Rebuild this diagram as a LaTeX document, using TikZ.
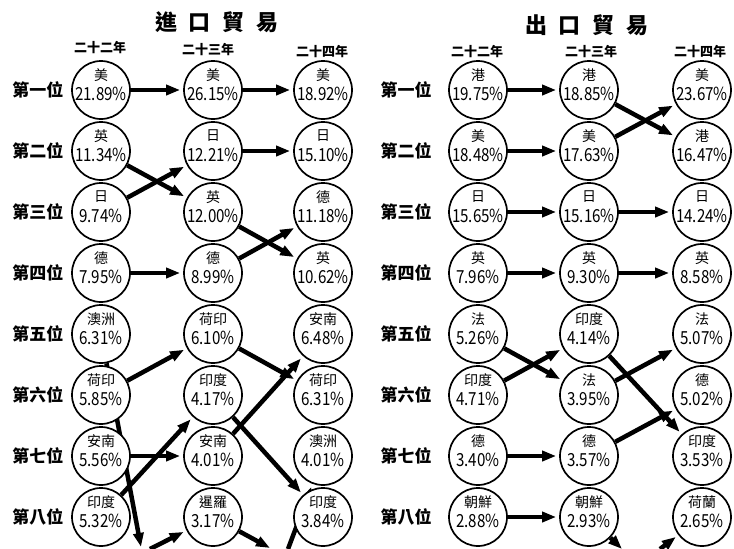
\documentclass[tikz,border=0pt]{standalone}
\usepackage{fontspec}
\usepackage{graphicx}
\setmainfont{Noto Sans CJK TC}
\usetikzlibrary{arrows.meta,backgrounds}
\newcommand{\rk}[5]{% name, x, row, country, share
  \node[rank] (#1) at (#2,{90+61*(#3-1)}) {};
  \node[ctry] (#1c) at ([yshift=15pt]#1.center) {#4};
  \node[shr] (#1p) at ([yshift=-4pt]#1.center) {\scalebox{0.84}[1]{#5\%}};}

\begin{document}
\begin{tikzpicture}[x=1pt,y=-1pt,
  rank/.style={draw,circle,line width=1.7pt,fill=white,minimum size=58pt,inner sep=0pt},
  ctry/.style={inner sep=0pt,font=\fontsize{14}{14}\selectfont},
  shr/.style={inner sep=0pt,font=\fontsize{18}{18}\selectfont},
  yr/.style={inner sep=0pt,font=\bfseries\fontsize{13}{13}\selectfont},
  rowlbl/.style={inner sep=0pt,font=\bfseries\fontsize{17}{17}\selectfont},
  ttl/.style={inner sep=0pt,font=\bfseries\fontsize{22}{22}\selectfont},
  flow/.style={-{Triangle[length=14pt,width=10pt]},line width=4.5pt,shorten >=3pt}]
  \useasboundingbox (0,0) rectangle (734,549);
  % titles and years
  \node[ttl] (ti) at (217,22) {進\hspace{12pt}口\hspace{12pt}貿\hspace{12pt}易};
  \node[ttl] (te) at (587,25) {出\hspace{12pt}口\hspace{12pt}貿\hspace{12pt}易};
  \node[yr] (iy1) at (100,48) {二十二年}; \node[yr] (iy2) at (208,50) {二十三年};
  \node[yr] (iy3) at (322,52) {二十四年};
  \node[yr] (ey1) at (477,52) {二十二年}; \node[yr] (ey2) at (591,52) {二十三年};
  \node[yr] (ey3) at (700,52) {二十四年};
  \foreach \r/\t in {1/一,2/二,3/三,4/四,5/五,6/六,7/七,8/八} {
    \node[rowlbl] (il\r) at (38,{90+61*(\r-1)}) {第\t 位};
    \node[rowlbl] (el\r) at (406,{90+61*(\r-1)}) {第\t 位};
  }
  % import
  \rk{i11}{101}{1}{美}{21.89} \rk{i12}{101}{2}{英}{11.34}
  \rk{i13}{101}{3}{日}{9.74}  \rk{i14}{101}{4}{德}{7.95}
  \rk{i15}{101}{5}{澳洲}{6.31} \rk{i16}{101}{6}{荷印}{5.85}
  \rk{i17}{101}{7}{安南}{5.56} \rk{i18}{101}{8}{印度}{5.32}
  \rk{i21}{213}{1}{美}{26.15} \rk{i22}{213}{2}{日}{12.21}
  \rk{i23}{213}{3}{英}{12.00} \rk{i24}{213}{4}{德}{8.99}
  \rk{i25}{213}{5}{荷印}{6.10} \rk{i26}{213}{6}{印度}{4.17}
  \rk{i27}{213}{7}{安南}{4.01} \rk{i28}{213}{8}{暹羅}{3.17}
  \rk{i31}{323}{1}{美}{18.92} \rk{i32}{323}{2}{日}{15.10}
  \rk{i33}{323}{3}{德}{11.18} \rk{i34}{323}{4}{英}{10.62}
  \rk{i35}{323}{5}{安南}{6.48} \rk{i36}{323}{6}{荷印}{6.31}
  \rk{i37}{323}{7}{澳洲}{4.01} \rk{i38}{323}{8}{印度}{3.84}
  % export
  \rk{e11}{478}{1}{港}{19.75} \rk{e12}{478}{2}{美}{18.48}
  \rk{e13}{478}{3}{日}{15.65} \rk{e14}{478}{4}{英}{7.96}
  \rk{e15}{478}{5}{法}{5.26}  \rk{e16}{478}{6}{印度}{4.71}
  \rk{e17}{478}{7}{德}{3.40}  \rk{e18}{478}{8}{朝鮮}{2.88}
  \rk{e21}{589}{1}{港}{18.85} \rk{e22}{589}{2}{美}{17.63}
  \rk{e23}{589}{3}{日}{15.16} \rk{e24}{589}{4}{英}{9.30}
  \rk{e25}{589}{5}{印度}{4.14} \rk{e26}{589}{6}{法}{3.95}
  \rk{e27}{589}{7}{德}{3.57}  \rk{e28}{589}{8}{朝鮮}{2.93}
  \rk{e31}{702}{1}{美}{23.67} \rk{e32}{702}{2}{港}{16.47}
  \rk{e33}{702}{3}{日}{14.24} \rk{e34}{702}{4}{英}{8.58}
  \rk{e35}{702}{5}{法}{5.07}  \rk{e36}{702}{6}{德}{5.02}
  \rk{e37}{702}{7}{印度}{3.53} \rk{e38}{702}{8}{荷蘭}{2.65}
  % ends off the chart
  \coordinate (iout1) at (141,547); \coordinate (iin2) at (150,549);
  \coordinate (iout2) at (270,548); \coordinate (iin3) at (288,549);
  \coordinate (eout2) at (622,549); \coordinate (ein3) at (660,549);
  \begin{scope}[on background layer]
    \draw[flow] (i11)--(i21); \draw[flow] (i21)--(i31);
    \draw[flow] (i12)--(i23); \draw[flow] (i13)--(i22); \draw[flow] (i22)--(i32);
    \draw[flow] (i23)--(i34); \draw[flow] (i24)--(i33); \draw[flow] (i14)--(i24);
    \draw[flow,shorten >=0pt] (i15)--(iout1);
    \draw[flow] (i16)--(i25); \draw[flow] (i25)--(i36);
    \draw[flow] (i17)--(i27); \draw[flow] (i27)--(i35);
    \draw[flow] (i18)--(i26); \draw[flow] (i26)--(i38);
    \draw[flow] (iin2)--(i28); \draw[flow,shorten >=0pt] (i28)--(iout2);
    \draw[flow] (iin3)--(i37);
    \draw[flow] (e11)--(e21); \draw[flow] (e21)--(e32);
    \draw[flow] (e12)--(e22); \draw[flow] (e22)--(e31);
    \draw[flow] (e13)--(e23); \draw[flow] (e23)--(e33);
    \draw[flow] (e14)--(e24); \draw[flow] (e24)--(e34);
    \draw[flow] (e15)--(e26); \draw[flow] (e16)--(e25);
    \draw[flow] (e25)--(e37); \draw[flow] (e26)--(e35);
    \draw[flow] (e17)--(e27); \draw[flow] (e27)--(e36);
    \draw[flow] (e18)--(e28); \draw[flow,shorten >=0pt] (e28)--(eout2);
    \draw[flow] (ein3)--(e38);
  \end{scope}
\end{tikzpicture}
\end{document}
